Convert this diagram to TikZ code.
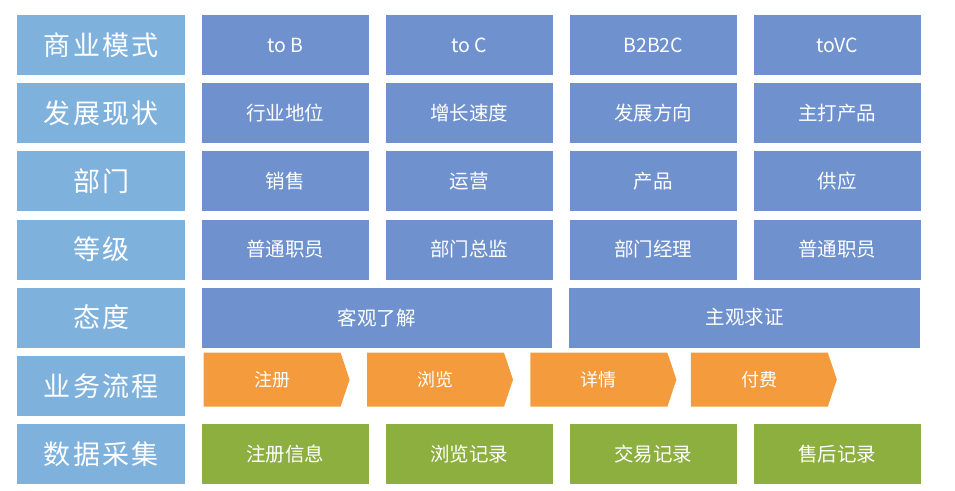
\documentclass[tikz,border=0pt]{standalone}
\usepackage{fontspec}
\newfontfamily\cjk{Noto Sans CJK SC}
\newfontfamily\cjkwide{Noto Sans CJK SC}[LetterSpace=8]
\usetikzlibrary{shapes.symbols}

\definecolor{rowblue}{HTML}{7FB1DD}
\definecolor{cellblue}{HTML}{6F91CE}
\definecolor{floworange}{HTML}{F39B3D}
\definecolor{datagreen}{HTML}{8CAF3F}

\tikzset{
  rowname/.style={anchor=north west, fill=rowblue, minimum width=168pt, minimum height=60pt, inner sep=0pt, text=white, font=\cjkwide\fontsize{27}{27}\selectfont},
  cell/.style={anchor=north west, fill=cellblue, minimum width=167pt, minimum height=60pt, inner sep=0pt, text=white, font=\cjk\fontsize{19.5}{19.5}\selectfont},
  widecell/.style={cell, minimum width=350.7pt},
  datacell/.style={cell, fill=datagreen},
  flowstep/.style={signal, signal to=east, signal pointer angle=143, anchor=west, fill=floworange, minimum width=146pt, minimum height=54pt, inner sep=0pt, text=white, font=\cjk\fontsize{18}{18}\selectfont}
}

\begin{document}
\begin{tikzpicture}
\useasboundingbox (0,0) rectangle (955pt,-490pt);

% row names
\node [rowname] (model) at (17pt,-15pt) {商业模式};
\node [rowname] (status) at ([yshift=-7.7pt]model.south west) {发展现状};
\node [rowname] (dept) at ([yshift=-7.7pt]status.south west) {部门};
\node [rowname] (level) at ([yshift=-7.7pt]dept.south west) {等级};
\node [rowname] (attitude) at ([yshift=-7.7pt]level.south west) {态度};
\node [rowname] (process) at ([yshift=-7.7pt]attitude.south west) {业务流程};
\node [rowname] (collect) at ([yshift=-7.7pt]process.south west) {数据采集};

% business model
\node [cell] (tob) at ([xshift=16pt]model.north east) {to B};
\node [cell] (toc) at ([xshift=16.7pt]tob.north east) {to C};
\node [cell] (btbtc) at ([xshift=16.7pt]toc.north east) {B2B2C};
\node [cell] (tovc) at ([xshift=16.7pt]btbtc.north east) {toVC};

% status
\node [cell] (position) at ([xshift=16pt]status.north east) {行业地位};
\node [cell] (growth) at ([xshift=16.7pt]position.north east) {增长速度};
\node [cell] (direction) at ([xshift=16.7pt]growth.north east) {发展方向};
\node [cell] (product) at ([xshift=16.7pt]direction.north east) {主打产品};

% departments
\node [cell] (sales) at ([xshift=16pt]dept.north east) {销售};
\node [cell] (operation) at ([xshift=16.7pt]sales.north east) {运营};
\node [cell] (productdept) at ([xshift=16.7pt]operation.north east) {产品};
\node [cell] (supply) at ([xshift=16.7pt]productdept.north east) {供应};

% levels
\node [cell] (staff) at ([xshift=16pt]level.north east) {普通职员};
\node [cell] (director) at ([xshift=16.7pt]staff.north east) {部门总监};
\node [cell] (manager) at ([xshift=16.7pt]director.north east) {部门经理};
\node [cell] (staff2) at ([xshift=16.7pt]manager.north east) {普通职员};

% attitude
\node [widecell] (objective) at ([xshift=16pt]attitude.north east) {客观了解};
\node [widecell] (subjective) at ([xshift=16.7pt]objective.north east) {主观求证};

% process
\node [flowstep] (signup) at ([xshift=18pt,yshift=6pt]process.east) {注册};
\node [flowstep] (browse) at ([xshift=17pt]signup.east) {浏览};
\node [flowstep] (detail) at ([xshift=17pt]browse.east) {详情};
\node [flowstep] (pay) at ([xshift=14pt]detail.east) {付费};

% data collection
\node [datacell] (signupinfo) at ([xshift=16pt]collect.north east) {注册信息};
\node [datacell] (browselog) at ([xshift=16.7pt]signupinfo.north east) {浏览记录};
\node [datacell] (tradelog) at ([xshift=16.7pt]browselog.north east) {交易记录};
\node [datacell] (servicelog) at ([xshift=16.7pt]tradelog.north east) {售后记录};
\end{tikzpicture}
\end{document}
